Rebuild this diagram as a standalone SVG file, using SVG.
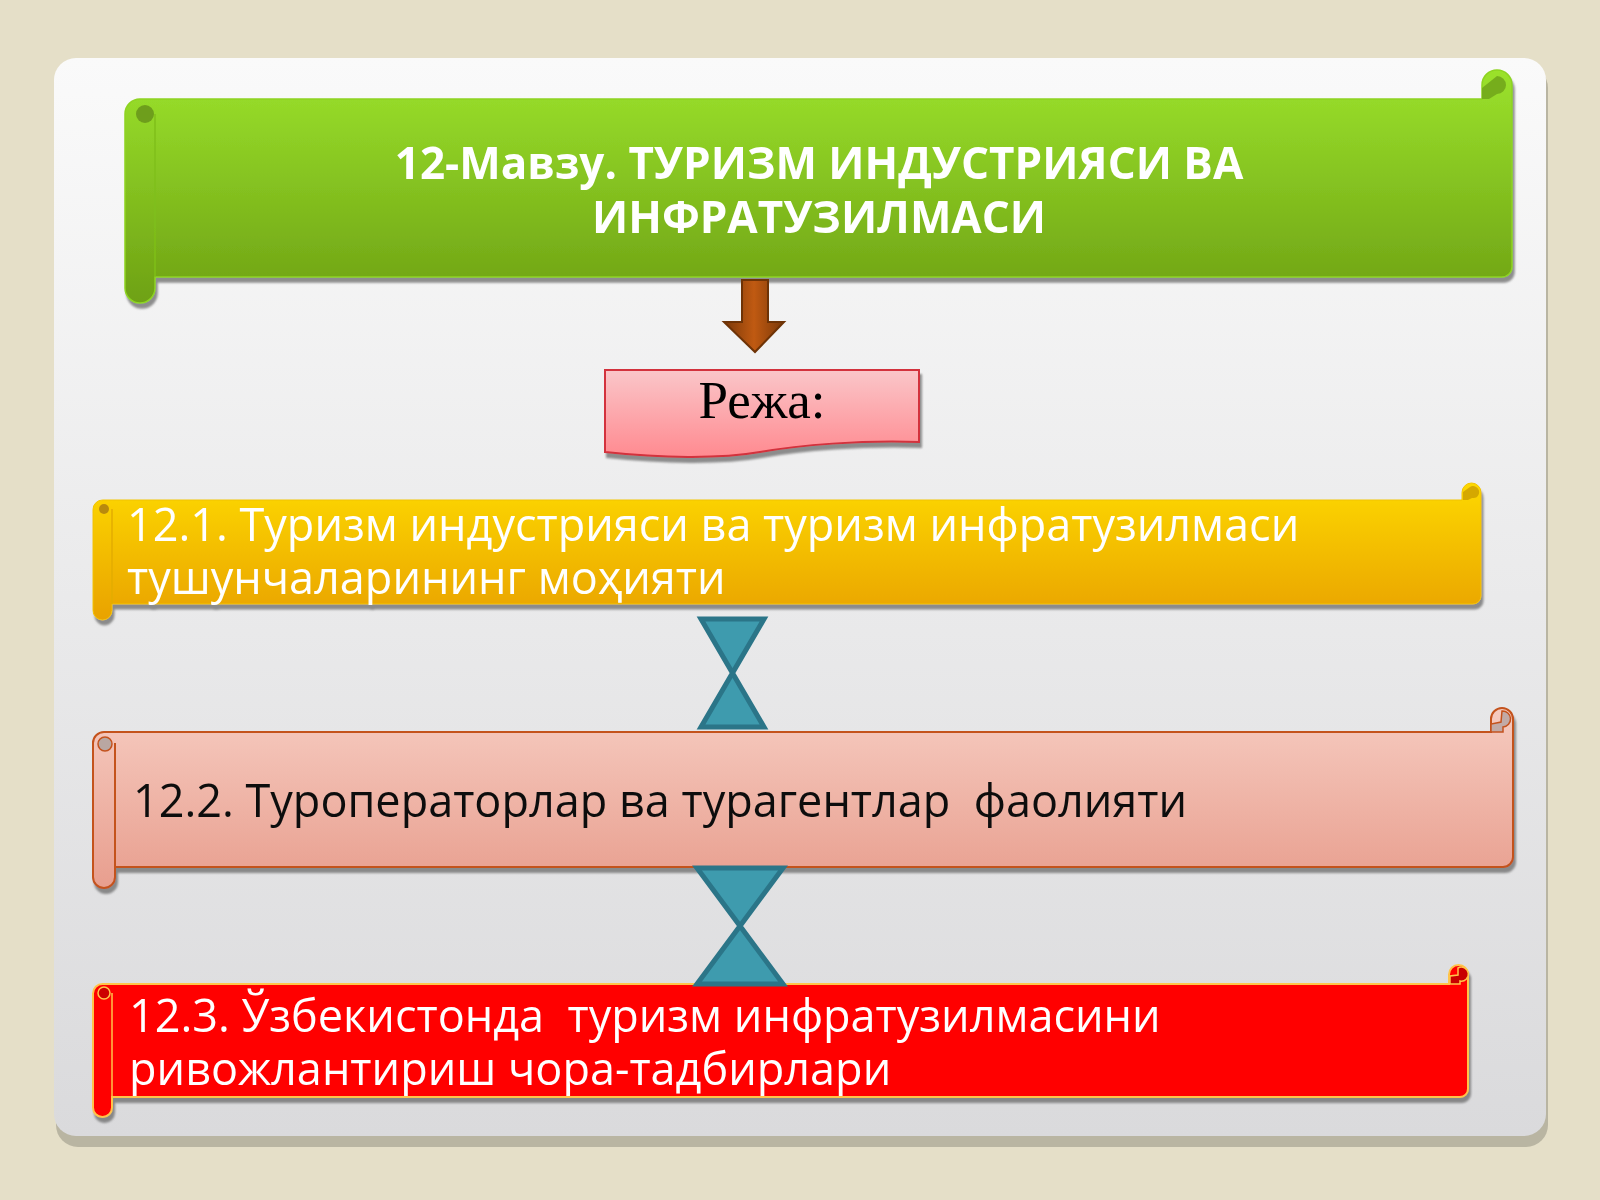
<svg xmlns="http://www.w3.org/2000/svg" width="1600" height="1200" viewBox="0 0 1600 1200">
<defs>
<style>
.title{font-family:"Open Sans","DejaVu Sans",sans-serif;font-weight:bold;font-size:44px;fill:#ffffff;text-anchor:middle;}
.item{font-family:"Open Sans","DejaVu Sans",sans-serif;font-size:45px;}
</style>
<linearGradient id="gPanel" x1="0" y1="0" x2="0" y2="1"><stop offset="0" stop-color="#fafafa"/><stop offset="1" stop-color="#dadadc"/></linearGradient>
<linearGradient id="gGreen" x1="0" y1="0" x2="0" y2="1"><stop offset="0" stop-color="#9be22c"/><stop offset="1" stop-color="#6ea114"/></linearGradient>
<linearGradient id="gYellow" x1="0" y1="0" x2="0" y2="1"><stop offset="0" stop-color="#fdd800"/><stop offset="1" stop-color="#e9a200"/></linearGradient>
<linearGradient id="gPink" x1="0" y1="0" x2="0" y2="1"><stop offset="0" stop-color="#f6cbc0"/><stop offset="1" stop-color="#e89e8e"/></linearGradient>
<linearGradient id="gRezha" x1="0" y1="0" x2="0" y2="1"><stop offset="0" stop-color="#fac6c9"/><stop offset="1" stop-color="#ff8a90"/></linearGradient>
<linearGradient id="gArrow" x1="0" y1="0" x2="1" y2="0"><stop offset="0" stop-color="#7a3808"/><stop offset="0.5" stop-color="#c05a12"/><stop offset="1" stop-color="#7a3808"/></linearGradient>
<filter id="sh" x="-5%" y="-10%" width="110%" height="130%"><feDropShadow dx="2" dy="5" stdDeviation="1" flood-color="#6a6a6a" flood-opacity="0.75"/></filter>
</defs>
<rect x="0" y="0" width="1600" height="1200" fill="#e5dfc8"/>
<rect x="56" y="66" width="1492" height="1081" rx="22" fill="#b9b5a2"/>
<rect x="54" y="58" width="1492" height="1078" rx="22" fill="url(#gPanel)"/>

<g id="title-banner" filter="url(#sh)">
<path d="M140,99 H1482 V85 A15,15 0 0 1 1512,85 V267 A10,10 0 0 1 1502,277 H155 V288 A15,15 0 0 1 125,288 V114 A15,15 0 0 1 140,99 Z" fill="url(#gGreen)" stroke="#8ed420" stroke-width="1.5"/>
<line x1="155" y1="114" x2="155" y2="277" stroke="#7fbf1a" stroke-width="1.5"/>
<circle cx="145" cy="114" r="9" fill="#6e9e1c"/>
<path d="M1497,76 A9,9 0 1 1 1497,94 L1489,99 H1482 V88 Z" fill="#76ad1e"/>
<text class="title" x="819" y="179">12-Мавзу. ТУРИЗМ ИНДУСТРИЯСИ ВА<tspan x="819" dy="54">ИНФРАТУЗИЛМАСИ</tspan></text>
</g>

<g id="arrow">
<path d="M742,280 H768 V322 H784 L755,352 L724,322 H742 Z" fill="url(#gArrow)" stroke="#6e3306" stroke-width="2"/>
</g>

<g id="rezha" filter="url(#sh)">
<path d="M605,370 H919 V442 C860,440 800,445 760,452 C720,459 660,458 605,452 Z" fill="url(#gRezha)" stroke="#d3303c" stroke-width="2"/>
<text x="762" y="418" font-family="'Liberation Serif','Times New Roman',serif" font-size="53" fill="#000000" text-anchor="middle">Режа:</text>
</g>

<g id="item1" filter="url(#sh)">
<path d="M102.5,500 H1462 V492.5 A9.5,9.5 0 0 1 1481,492.5 V596 A8,8 0 0 1 1473,604 H112 V610.5 A9.5,9.5 0 0 1 93,610.5 V509.5 A9.5,9.5 0 0 1 102.5,500 Z" fill="url(#gYellow)" stroke="#f2c400" stroke-width="1"/>
<line x1="112" y1="509" x2="112" y2="604" stroke="#e3ac00" stroke-width="1.5"/>
<circle cx="104" cy="509" r="5" fill="#b88a10"/>
<path d="M1470,487 A6,6 0 1 1 1472,498 L1468,500 H1463 V492 Z" fill="#d5a800"/>
<text class="item" x="127" y="541" fill="#ffffff">12.1. Туризм индустрияси ва туризм инфратузилмаси<tspan x="127" dy="53">тушунчаларининг моҳияти</tspan></text>
</g>

<g id="item2" filter="url(#sh)">
<path d="M104,732 H1491 V719 A11,11 0 0 1 1513,719 V857 A10,10 0 0 1 1503,867 H115 V877 A11,11 0 0 1 93,877 V743 A11,11 0 0 1 104,732 Z" fill="url(#gPink)" stroke="#c4521e" stroke-width="2"/>
<line x1="115" y1="743" x2="115" y2="867" stroke="#c4521e" stroke-width="2"/>
<circle cx="105" cy="744" r="7" fill="#b9a7a2" stroke="#c4521e" stroke-width="1.5"/>
<path d="M1502,711 A8,8 0 1 1 1503,727 V732 H1491 V724 L1501,722 Z" fill="#c2aaa6" stroke="#c4521e" stroke-width="1.5"/>
<text class="item" x="133" y="817" fill="#111111" xml:space="preserve">12.2. Туроператорлар ва турагентлар  фаолияти</text>
</g>

<g id="item3" filter="url(#sh)">
<path d="M102.5,984 H1449 V974.5 A9.5,9.5 0 0 1 1468,974.5 V1089 A8,8 0 0 1 1460,1097 H112 V1107.5 A9.5,9.5 0 0 1 93,1107.5 V993.5 A9.5,9.5 0 0 1 102.5,984 Z" fill="#ff0000" stroke="#ffc44a" stroke-width="2"/>
<line x1="112" y1="993" x2="112" y2="1097" stroke="#ffc44a" stroke-width="1.5"/>
<circle cx="104" cy="993" r="6" fill="#cc0000" stroke="#ffc44a" stroke-width="1.5"/>
<path d="M1458,968 A7,7 0 1 1 1460,981 V984 H1450 V976 L1458,975 Z" fill="#c80000" stroke="#ffc44a" stroke-width="1.5"/>
<text class="item" x="129" y="1032" fill="#ffffff" xml:space="preserve">12.3. Ўзбекистонда  туризм инфратузилмасини<tspan x="129" dy="53">ривожлантириш чора-тадбирлари</tspan></text>
</g>

<g id="connectors">
<path d="M701,619 H764 L732.5,673 Z M732.5,673 L764,727 H701 Z" fill="#3e9bae" stroke="#2b7588" stroke-width="5" stroke-linejoin="miter"/>
<path d="M697,868 H783 L740,926 Z M740,926 L783,984 H697 Z" fill="#3e9bae" stroke="#2b7588" stroke-width="5" stroke-linejoin="miter"/>
</g>
</svg>
